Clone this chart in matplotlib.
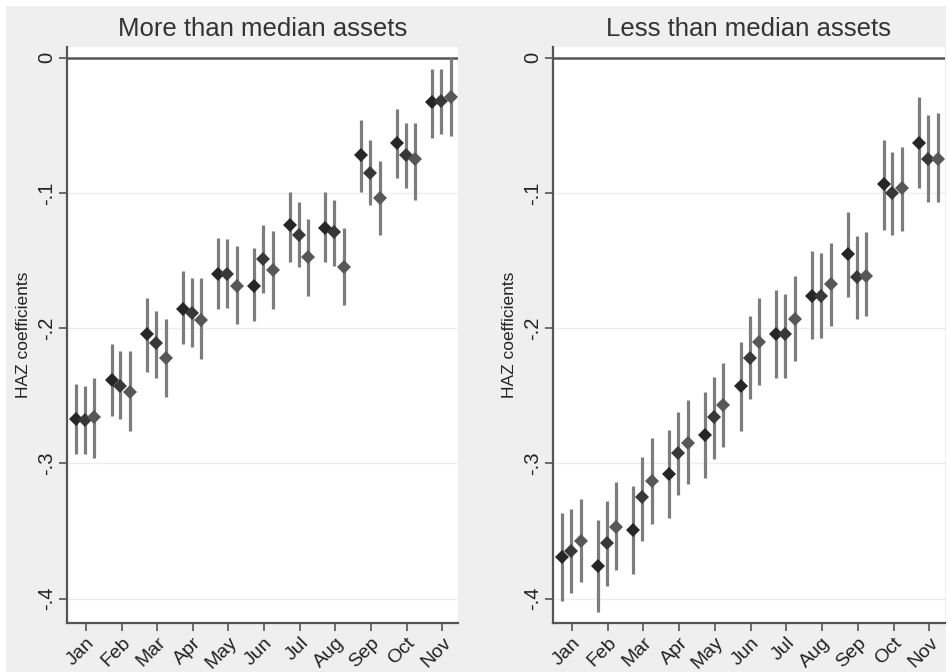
import matplotlib
matplotlib.use("Agg")
import matplotlib.pyplot as plt
from matplotlib.patches import Rectangle

plt.rcParams['font.family'] = ['Liberation Sans', 'DejaVu Sans']

months = ["Jan", "Feb", "Mar", "Apr", "May", "Jun", "Jul", "Aug", "Sep", "Oct", "Nov"]
series_offsets = [-0.28, -0.03, 0.24]
yticks = [0, -0.1, -0.2, -0.3, -0.4]
ytick_labels = ["0", "-.1", "-.2", "-.3", "-.4"]
titles = ["More than median assets", "Less than median assets"]
ylabel = "HAZ coefficients"

# Panel 1: More than median assets  (three series per month)
more_coef = [
    [-0.267, -0.238, -0.204, -0.186, -0.160, -0.169, -0.124, -0.126, -0.072, -0.063, -0.033],
    [-0.268, -0.243, -0.211, -0.189, -0.160, -0.149, -0.131, -0.129, -0.085, -0.072, -0.032],
    [-0.266, -0.247, -0.222, -0.194, -0.169, -0.157, -0.147, -0.155, -0.104, -0.075, -0.029],
]
more_lo = [
    [-0.293, -0.265, -0.232, -0.212, -0.186, -0.195, -0.151, -0.151, -0.099, -0.089, -0.059],
    [-0.293, -0.267, -0.237, -0.214, -0.185, -0.174, -0.155, -0.154, -0.109, -0.096, -0.056],
    [-0.296, -0.276, -0.251, -0.223, -0.197, -0.186, -0.176, -0.183, -0.131, -0.105, -0.058],
]
more_hi = [
    [-0.241, -0.212, -0.178, -0.158, -0.133, -0.141, -0.099, -0.099, -0.046, -0.038, -0.008],
    [-0.243, -0.217, -0.187, -0.163, -0.134, -0.124, -0.107, -0.105, -0.061, -0.048, -0.008],
    [-0.237, -0.217, -0.193, -0.163, -0.139, -0.128, -0.119, -0.126, -0.076, -0.048, 0.000],
]

# Panel 2: Less than median assets
less_coef = [
    [-0.369, -0.376, -0.349, -0.308, -0.279, -0.243, -0.204, -0.176, -0.145, -0.093, -0.063],
    [-0.365, -0.359, -0.325, -0.292, -0.266, -0.222, -0.204, -0.176, -0.162, -0.100, -0.075],
    [-0.357, -0.347, -0.313, -0.285, -0.257, -0.210, -0.193, -0.167, -0.161, -0.096, -0.075],
]
less_lo = [
    [-0.402, -0.410, -0.382, -0.340, -0.311, -0.276, -0.237, -0.208, -0.177, -0.127, -0.096],
    [-0.396, -0.391, -0.357, -0.323, -0.297, -0.252, -0.237, -0.207, -0.193, -0.131, -0.107],
    [-0.388, -0.379, -0.345, -0.315, -0.288, -0.242, -0.224, -0.198, -0.191, -0.128, -0.107],
]
less_hi = [
    [-0.337, -0.342, -0.317, -0.275, -0.247, -0.210, -0.172, -0.143, -0.114, -0.061, -0.029],
    [-0.334, -0.328, -0.295, -0.262, -0.236, -0.191, -0.175, -0.144, -0.132, -0.070, -0.042],
    [-0.326, -0.314, -0.281, -0.253, -0.226, -0.178, -0.161, -0.137, -0.129, -0.066, -0.041],
]

marker_colors = ["#262626", "#383838", "#575757"]
bar_color = "#7d7d7d"
axis_color = "#555555"

W, H = 948, 672
fig = plt.figure(figsize=(W / 100, H / 100), dpi=100, facecolor="white")
fig.patches.append(Rectangle((6 / W, 0), (946 - 6) / W, (H - 6) / H,
                             transform=fig.transFigure, facecolor="#efefef",
                             edgecolor="none", zorder=-10))

panel_left = [67, 553]
panel_right = [458, 945]
top_px, bottom_px = 47, 623

panels = [(more_coef, more_lo, more_hi), (less_coef, less_lo, less_hi)]
x_base = list(range(1, len(months) + 1))

for p, (coef, lo, hi) in enumerate(panels):
    l = panel_left[p] / W
    w = (panel_right[p] - panel_left[p]) / W
    b = (H - bottom_px) / H
    h = (bottom_px - top_px) / H
    ax = fig.add_axes([l, b, w, h])
    ax.set_facecolor("white")
    for s in range(3):
        xs = [x + series_offsets[s] for x in x_base]
        ax.vlines(xs, lo[s], hi[s], color=bar_color, lw=2.3, zorder=2)
        ax.plot(xs, coef[s], linestyle="none", marker="D", markersize=7.5,
                color=marker_colors[s], markeredgewidth=0, zorder=3)
    ax.axhline(0, color=axis_color, lw=1.8, zorder=1.5)
    for g in yticks[1:]:
        ax.axhline(g, color="#eeeeee", lw=1.0, zorder=0.5)
    ax.set_xlim(0.47, 11.44)
    ax.set_ylim(-0.418, 0.008)
    ax.set_yticks(yticks)
    ax.set_yticklabels(ytick_labels, rotation=90, va="center", fontsize=14.5, color="#222222")
    ax.set_xticks(x_base)
    ax.set_xticklabels(months, rotation=45, ha="right", rotation_mode="anchor",
                       fontsize=14, color="#222222")
    ax.tick_params(axis="both", direction="out", length=6, width=1.2, color=axis_color, pad=2)
    for side in ["top", "right"]:
        ax.spines[side].set_visible(False)
    for side in ["left", "bottom"]:
        ax.spines[side].set_color(axis_color)
        ax.spines[side].set_linewidth(1.6)
    ax.set_ylabel(ylabel, fontsize=12.5, color="#222222", labelpad=4)
    ax.set_title(titles[p], fontsize=18.5, color="#333333", pad=8)

fig.savefig("out.png", dpi=100, facecolor=fig.get_facecolor())
